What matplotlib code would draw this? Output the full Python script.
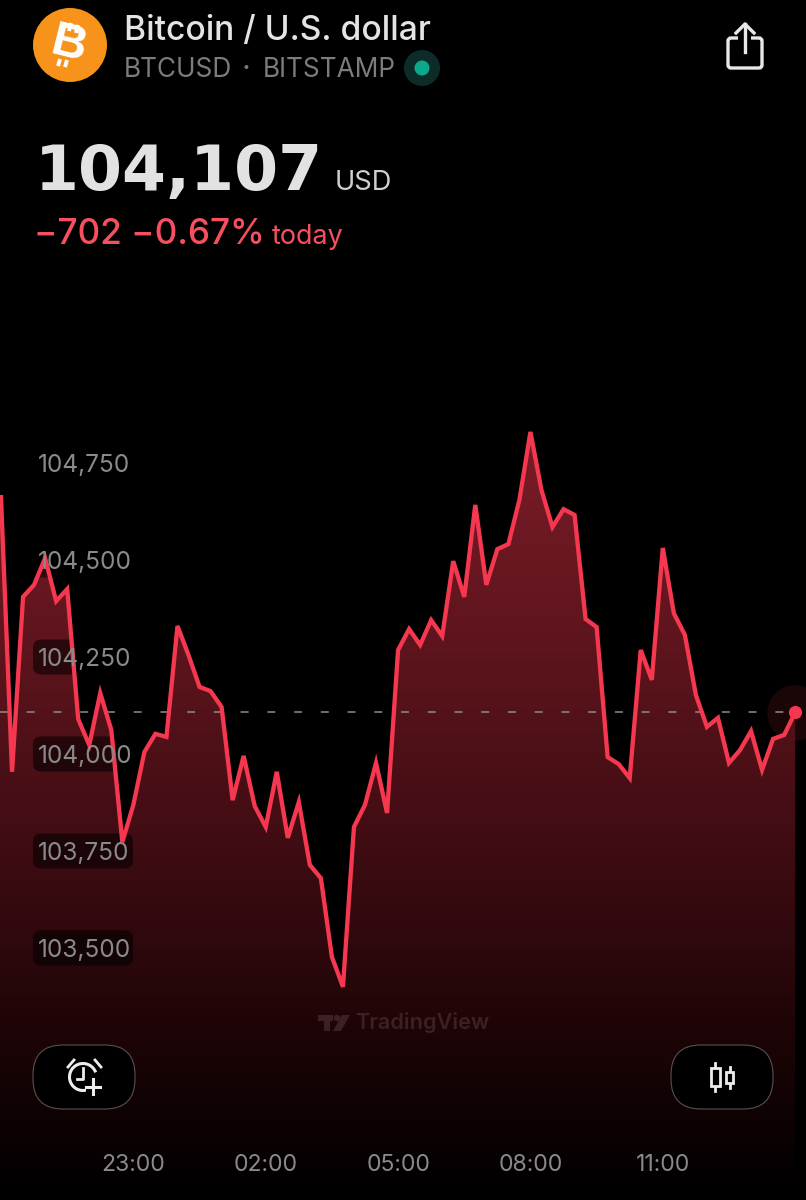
import numpy as np
import matplotlib
matplotlib.use("Agg")
import matplotlib.pyplot as plt
from matplotlib.patches import Circle, FancyBboxPatch, Arc, Polygon, Rectangle
from matplotlib.colors import LinearSegmentedColormap
from matplotlib.transforms import Affine2D

prices = [104662, 103954, 104405, 104436, 104505, 104394, 104425, 104090, 104023, 104157,
          104062, 103773, 103869, 104005, 104052, 104044, 104330, 104255, 104173, 104162,
          104121, 103881, 103995, 103866, 103812, 103954, 103784, 103876, 103714, 103680,
          103477, 103400, 103812, 103869, 103977, 103848, 104268, 104322, 104281, 104345,
          104304, 104497, 104405, 104642, 104436, 104528, 104541, 104655, 104830, 104680,
          104585, 104631, 104616, 104348, 104327, 103992, 103974, 103938, 104268, 104191,
          104531, 104363, 104307, 104152, 104070, 104093, 103977, 104010, 104059, 103959,
          104039, 104049, 104107]
last_price = 104107
y_ticks = [103500, 103750, 104000, 104250, 104500, 104750]
y_tick_labels = ["103,500", "103,750", "104,000", "104,250", "104,500", "104,750"]
x_ticks = [12, 24, 36, 48, 60]
x_tick_labels = ["23:00", "02:00", "05:00", "08:00", "11:00"]

W, H = 806, 1200
plt.rcParams['font.family'] = ['Inter', 'DejaVu Sans']
fig = plt.figure(figsize=(W/100, H/100), dpi=100, facecolor='black')
ax = fig.add_axes([0, 0, 1, 1], facecolor='black')
T = Affine2D().scale(1/W, -1/H).translate(0, 1) + fig.transFigure

step = 11.03
xs = np.arange(len(prices))
ppx = 250/97.0
ax.set_xlim(-1/step, (W-1)/step)
ax.set_ylim(104000-(H-754)*ppx, 104000+754*ppx)

# gradient fill
cmap = LinearSegmentedColormap.from_list('g', [(0, '#7a1c28'), (0.3, '#5c141c'), (0.55, '#3e0c12'),
                                               (0.8, '#1c0406'), (1, '#000000')])
y0, y1 = 104000-(1195-754)*ppx, 104000+(754-430)*ppx
x_left = -1/step
im = ax.imshow(np.linspace(0, 1, 256)[:, None], cmap=cmap, aspect='auto',
               extent=[x_left, xs[-1], y0, y1], origin='upper', zorder=1, interpolation='bilinear')
clip = Polygon(np.column_stack([np.r_[x_left, x_left, xs, xs[-1]], np.r_[y0, prices[0], prices, y0]]),
               closed=True, transform=ax.transData, facecolor='none', edgecolor='none')
ax.add_patch(clip)
im.set_clip_path(clip)

# pills behind price labels
for t in y_ticks:
    yc = 754 + (104000-t)/ppx
    ax.add_patch(FancyBboxPatch((33, yc-17.5), 100, 35, boxstyle="round,pad=0,rounding_size=8",
                                mutation_aspect=1, transform=T, fc=(0, 0, 0, 0.55), ec='none', zorder=1.5))

ax.axhline(last_price, xmin=0, xmax=795/W, color='#8c8c8c', lw=1.1, dashes=(5.2, 12.3), zorder=1.8, dash_capstyle='butt')
ax.plot(xs, prices, color='#f5384f', lw=3.1, solid_joinstyle='miter', zorder=2)
ax.add_patch(Circle((xs[-1]*step+1, 713), 28, transform=T, fc='#1a0507', ec='none', zorder=0.9))
ax.plot(xs[-1], last_price, 'o', ms=9.5, color='#f5384f', mec='none', zorder=3, clip_on=False)

# axes ticks inside the plot
ax.set_axisbelow(False)
for s in ax.spines.values():
    s.set_visible(False)
ax.set_yticks(y_ticks, y_tick_labels)
ax.set_xticks(x_ticks, x_tick_labels)
ax.tick_params(axis='y', direction='in', length=0, pad=-38*0.72, labelsize=17.6, labelcolor='#8a8a8a')
ax.tick_params(axis='x', direction='in', length=0, pad=-46*0.72, labelsize=16.6, labelcolor='#8a8a8a')
for l in ax.get_yticklabels():
    l.set_ha('left')

def tx(x, y, s, **k):
    return ax.text(x, y, s, transform=T, clip_on=False, zorder=6, **k)

# header
ax.add_patch(Circle((70, 45), 37, transform=T, fc='#f7931a', ec='none', zorder=5))
tx(69, 45, 'B', color='white', fontsize=35, fontweight='bold', rotation=-14, ha='center', va='center', family='Liberation Sans')
for xa, ya, xb, yb in [(69, 31, 71, 23), (76, 33, 78, 25), (60, 59, 58, 66), (67, 60, 65, 67)]:
    ax.plot([xa, xb], [ya, yb], transform=T, color='white', lw=2.8, zorder=6, solid_capstyle='butt')
tx(124, 40, 'Bitcoin / U.S. dollar', color='#e4e4e4', fontsize=24.2, fontweight='medium', va='baseline')
tx(124, 77, 'BTCUSD', color='#7c7c7c', fontsize=18.9, va='baseline')
tx(246, 68, '•', color='#7c7c7c', fontsize=9, ha='center', va='center')
tx(263, 77, 'BITSTAMP', color='#7c7c7c', fontsize=18.9, va='baseline')
ax.add_patch(Circle((422, 68), 18, transform=T, fc='#0d2c29', ec='none', zorder=5))
ax.add_patch(Circle((422, 68), 7.5, transform=T, fc='#0ba88b', ec='none', zorder=5.5))

# share icon
ax.add_patch(FancyBboxPatch((728, 38), 34, 30, boxstyle="round,pad=0,rounding_size=3", transform=T, fc='none', ec='#e8e8e8', lw=2.4, zorder=5, mutation_aspect=1))
ax.add_patch(Rectangle((738, 34), 13, 8, transform=T, fc='black', ec='none', zorder=5.2))
ax.plot([745, 745], [24, 52], transform=T, color='#e8e8e8', lw=2.4, zorder=5.5)
ax.plot([736, 745, 754], [33, 24, 33], transform=T, color='#e8e8e8', lw=2.4, zorder=5.5)

# price
tx(35, 190, '104,107', color='#e2e2e2', fontsize=45.5, fontweight='bold', va='baseline', family='DejaVu Sans')
tx(335, 190, 'USD', color='#cfcfcf', fontsize=19.6, va='baseline')
tx(34, 244, '\u2212702 \u22120.67%', color='#f6505f', fontsize=25.3, fontweight='medium', va='baseline')
tx(272, 244, 'today', color='#f6505f', fontsize=19.4, va='baseline')

# watermark
wm = '#3c2023'
ax.add_patch(Rectangle((318, 1015), 15, 6, transform=T, fc=wm, zorder=5))
ax.add_patch(Rectangle((324, 1015), 6, 16, transform=T, fc=wm, zorder=5))
ax.add_patch(Circle((337, 1018), 3.2, transform=T, fc=wm, zorder=5))
ax.add_patch(Polygon([(342, 1015), (350, 1015), (341, 1031), (333, 1031)], transform=T, fc=wm, zorder=5))
tx(355, 1029, 'TradingView', color=wm, fontsize=15.6, fontweight='semibold', va='baseline')

# buttons
for x0 in (33, 671):
    ax.add_patch(FancyBboxPatch((x0, 1045), 102, 64, boxstyle="round,pad=0,rounding_size=30", transform=T,
                                fc='black', ec='#5a5050', lw=0.8, zorder=5, mutation_aspect=1))
ic = '#ededed'
ax.add_patch(Arc((83, 1077), 27, 27, theta1=15, theta2=340, transform=T, ec=ic, lw=2.2, zorder=6))
ax.add_patch(Rectangle((86, 1080), 16, 16, transform=T, fc='black', ec='none', zorder=6.1))
ax.plot([83, 83, 77], [1068, 1079, 1079], transform=T, color=ic, lw=2, zorder=6.2)
ax.plot([68, 74], [1067, 1060], transform=T, color=ic, lw=2, zorder=6.2)
ax.plot([101, 95], [1067, 1060], transform=T, color=ic, lw=2, zorder=6.2)
ax.plot([93, 93], [1079, 1094], transform=T, color=ic, lw=2.2, zorder=6.2)
ax.plot([86, 100], [1087, 1087], transform=T, color=ic, lw=2.2, zorder=6.2)
ax.plot([715, 715], [1063, 1091], transform=T, color=ic, lw=2, zorder=6)
ax.add_patch(Rectangle((711, 1068), 8.5, 18, transform=T, fc='black', ec=ic, lw=2, zorder=6.1))
ax.plot([729.5, 729.5], [1067, 1088], transform=T, color=ic, lw=2, zorder=6)
ax.add_patch(Rectangle((726, 1072), 7, 11, transform=T, fc='black', ec=ic, lw=2, zorder=6.1))

fig.savefig('out.png', dpi=100, facecolor='black')
